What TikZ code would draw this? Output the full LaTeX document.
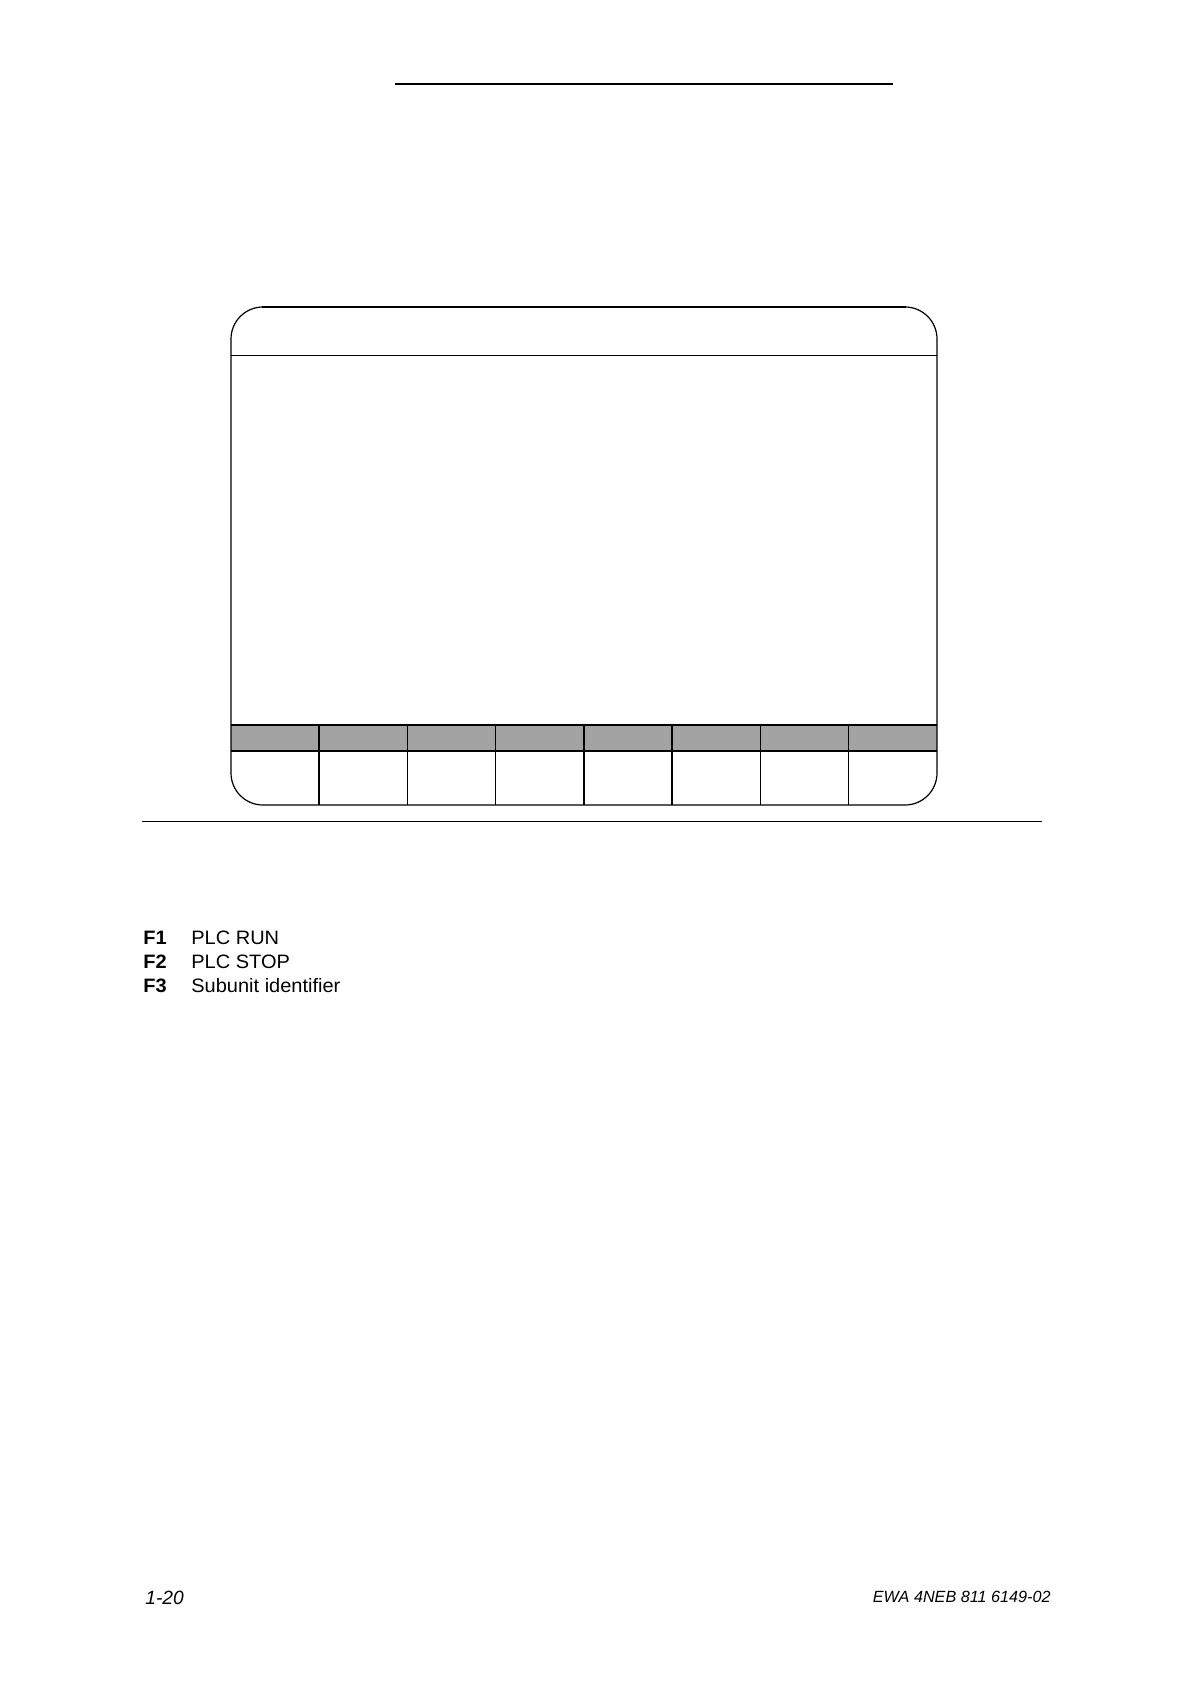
\documentclass[tikz,border=0pt]{standalone}
\usepackage{fontspec}
\setmainfont{Liberation Sans}
\usetikzlibrary{positioning}

\begin{document}
\begin{tikzpicture}[x=0.5pt,y=-0.5pt]
                    \tikzstyle{every node}+=[inner sep=0pt]
                    \tikzstyle{keytext}=[anchor=base west,yscale=0.97,font=\fontsize{10}{12}\selectfont]
                    \tikzstyle{footer}=[font=\fontsize{8.1}{10}\selectfont\itshape]
                    \useasboundingbox (0,0) rectangle (1194,1684);
                    \draw [black, line width=1pt] (395,83.7) -- (892.7,83.7);
                    \fill [black!36] (231,725) rectangle (937,751);
                    \draw [black, line width=0.6pt, rounded corners=16pt] (231,307) rectangle (937,805);
                    \draw [black, line width=1pt] (262,307) -- (906,307);
                    \draw [black, line width=0.55pt] (231,355.3) -- (937,355.3);
                    \draw [black, line width=0.7pt] (231,725) -- (937,725);
                    \draw [black, line width=0.6pt] (231,751) -- (937,751);
                    \foreach \i in {2,3,4,6,7}
                        \draw [black, line width=0.6pt] (231+\i*88.25,725) -- (231+\i*88.25,805);
                    \foreach \i in {1,5}
                        \draw [black, line width=1pt] (231+\i*88.25,725) -- (231+\i*88.25,805);
                    \draw [black, line width=0.6pt] (142,821.3) -- (1041.7,821.3);
                    \node [keytext] (fa) at (143,944.5) {\textbf{F1}};
                    \node [keytext] (ta) at (191,944.5) {PLC RUN};
                    \node [keytext] (fb) at (143,968) {\textbf{F2}};
                    \node [keytext] (tb) at (191,968) {PLC STOP};
                    \node [keytext] (fc) at (143,992) {\textbf{F3}};
                    \node [keytext] (tc) at (191,992) {Subunit identifier};
                    \node [footer, anchor=base west, font=\fontsize{9.6}{11}\selectfont\itshape] (page) at (145,1604.5) {1-20};
                    \node [footer, anchor=base east] (docno) at (1051,1602.3) {EWA 4NEB 811 6149-02};
                \end{tikzpicture}
\end{document}
